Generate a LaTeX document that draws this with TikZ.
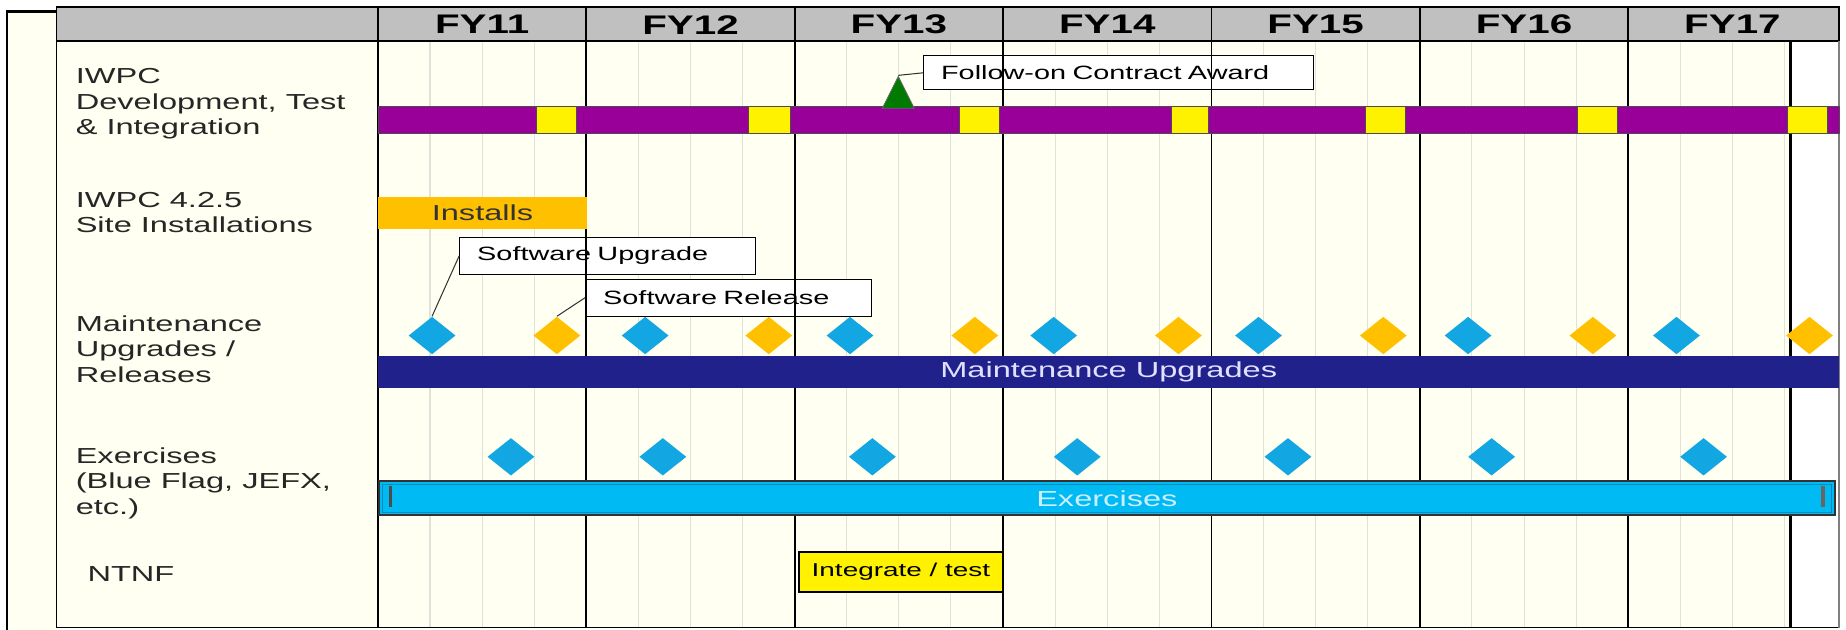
\documentclass[tikz,border=0pt]{standalone}
\usepackage{fontspec}
\setmainfont[FakeStretch=1.5]{Liberation Sans}
\usepackage{xcolor}
\usetikzlibrary{positioning,shapes.geometric}

\definecolor{cream}{HTML}{FFFFF2}
\definecolor{hdrgrey}{HTML}{C0C0C0}
\definecolor{qgrid}{HTML}{E2E2DA}
\definecolor{devpurple}{HTML}{990099}
\definecolor{relorange}{HTML}{FFC000}
\definecolor{upblue}{HTML}{12A6E2}
\definecolor{maintnavy}{HTML}{21218C}
\definecolor{exblue}{HTML}{00BAF4}
\definecolor{extext}{HTML}{CCEEFF}
\definecolor{awardgreen}{HTML}{007A00}

\begin{document}
\begin{tikzpicture}[x=0.02cm, y=-0.02cm,
  rowlabel/.style={anchor=north west, align=left, inner sep=0pt, text=black!85,
    font=\fontsize{10.5}{12.2}\selectfont},
  yearhead/.style={font=\bfseries\fontsize{13}{15}\selectfont},
  note/.style={draw, fill=white, anchor=north west, align=left, inner xsep=0.3cm,
    inner ysep=0pt, font=\fontsize{9.3}{11}\selectfont},
  upgrade/.style={diamond, fill=upblue, inner sep=0pt, minimum width=0.8cm,
    minimum height=0.64cm},
  release/.style={upgrade, fill=relorange},
  milestone/.style={isosceles triangle, isosceles triangle stretches,
    shape border rotate=90, minimum width=0.54cm, minimum height=0.54cm,
    inner sep=0pt, fill=awardgreen, draw=black!60, line width=0.4pt},
  ganttbar/.style={anchor=north west, inner sep=0pt,
    font=\fontsize{10.5}{12}\selectfont},
  link/.style={draw, black!80, line width=0.5pt}]
\useasboundingbox (0,0) rectangle (1568,535);
\fill[cream] (6,10) rectangle (48,535);
\fill[cream] (48,35) rectangle (1562,533);
\foreach \k in {0,...,6}
  \foreach \q in {1,2,3}
    \draw[qgrid, line width=0.5pt] ({321+177*\k+44.25*\q},35) -- ({321+177*\k+44.25*\q},533);
\fill[white] (1521,35) rectangle (1562,533);

\node[note, text width=6.02cm, minimum height=0.58cm] (awardnote) at (784,47) {Follow-on Contract Award};
\node[note, text width=4.42cm, minimum height=0.64cm] (upnote) at (390,201) {Software Upgrade};
\node[note, text width=4.26cm, minimum height=0.62cm] (relnote) at (497,237) {Software Release};

\draw[fill=hdrgrey, line width=0.8pt] (48,6) rectangle (1562,35);
\foreach \x in {321,498,675,852,1029,1206}
  \draw[line width=0.8pt] (\x,6) -- (\x,533);
\draw[line width=1.2pt] (1383,6) -- (1383,533);
\draw[line width=1.5pt] (1521,35) -- (1521,533);
\draw[line width=0.8pt] (48,35) -- (48,533) -- (1562,533);
\draw[black!50, line width=0.6pt] (1562,35) -- (1562,533);
\draw[line width=1.3pt] (48,10) -- (6,10) -- (6,535);

\foreach \y [count=\i from 0] in {11,...,17}
  \node[yearhead] (fy\y) at ({409.5+177*\i},21) {FY\y};

\node[rowlabel] (devlabel) at (64,58) {IWPC\\Development, Test\\\& Integration};
\node[rowlabel] (sitelabel) at (64,163) {IWPC 4.2.5\\Site Installations};
\node[rowlabel] (maintlabel) at (64,268) {Maintenance\\Upgrades /\\Releases};
\node[rowlabel] (exlabel) at (64,380) {Exercises\\(Blue Flag, JEFX,\\etc.)};
\node[rowlabel] (ntnflabel) at (74,481) {NTNF};

\foreach \a/\b/\c in {321/456/490, 490/636/671, 671/815/849, 849/995/1026,
    1026/1160/1194, 1194/1340/1374, 1374/1518/1552} {
  \filldraw[fill=devpurple, draw=black!70, line width=0.4pt] (\a,90) rectangle (\b,113);
  \filldraw[fill=yellow, draw=black!70, line width=0.4pt] (\b,90) rectangle (\c,113);
}
\filldraw[fill=devpurple, draw=black!70, line width=0.4pt] (1552,90) rectangle (1562,113);
\node[milestone, anchor=apex] (award) at (763,64) {};

\node[ganttbar, fill=relorange, text=black!80, minimum width=3.54cm,
  minimum height=0.54cm] (installs) at (321,167) {Installs};
\node[ganttbar, fill=maintnavy, text=white!88!blue, minimum width=24.82cm,
  minimum height=0.54cm] (maint) at (321,302) {Maintenance Upgrades};
\node[ganttbar, fill=exblue, draw=black!80, line width=0.9pt, text=extext,
  minimum width=24.74cm, minimum height=0.58cm] (exbar) at (321,408) {Exercises};
\draw[exblue!75!black, line width=0.4pt] ([xshift=2pt,yshift=-2pt]exbar.north west)
  rectangle ([xshift=-2pt,yshift=2pt]exbar.south east);
\fill[black!70] (330,413) rectangle (333,431);
\fill[black!60] (1547,413) rectangle (1550,431);
\node[ganttbar, fill=yellow, draw, line width=0.9pt, minimum width=3.46cm,
  minimum height=0.68cm, font=\fontsize{9}{11}\selectfont] (ntnf) at (678,468) {Integrate / test};

\foreach \x [count=\i] in {367,548,722,895,1069,1247,1424}
  \node[upgrade] (up\i) at (\x,285) {};
\foreach \x [count=\i] in {473,653,828,1001,1175,1353,1537}
  \node[release] (rel\i) at (\x,285) {};
\foreach \x [count=\i] in {434,563,741,915,1094,1267,1447}
  \node[upgrade] (ex\i) at (\x,388) {};

\draw[link] (award.apex) -- (awardnote.west);
\draw[link] (upnote.west) -- (up1.north);
\draw[link] (relnote.west) -- (rel1.north);
\end{tikzpicture}
\end{document}
